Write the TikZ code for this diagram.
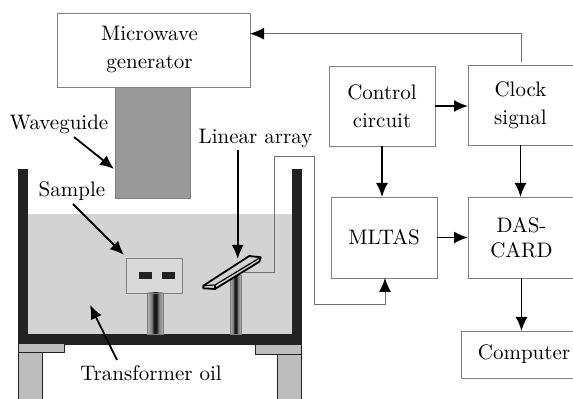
\documentclass[tikz,border=0pt]{standalone}
\usepackage{xcolor}
\usepackage{tikz}
\usetikzlibrary{arrows.meta, positioning, calc}
\definecolor{boxline}{HTML}{808080}
\definecolor{wirecolor}{HTML}{707070}
\definecolor{guidegray}{HTML}{999999}
\definecolor{oilgray}{HTML}{D3D3D3}
\definecolor{samplegray}{HTML}{D9D9D9}
\definecolor{tankblack}{HTML}{222222}
\definecolor{supportgray}{HTML}{BDBDBD}
\pgfdeclarehorizontalshading{stemshade}{100bp}{color(0bp)=(black!30); color(25bp)=(black!30); color(38bp)=(black!50); color(46bp)=(black!90); color(54bp)=(black!90); color(62bp)=(black!50); color(75bp)=(black!30); color(100bp)=(black!30)}

\begin{document}
\begin{tikzpicture}[
  x=0.5pt, y=-0.5pt,
  blockbox/.style={draw=boxline, line width=0.45pt, fill=white, align=center, font=\fontsize{10.5}{14}\selectfont, inner sep=0pt, outer sep=0pt, anchor=north west},
  lbl/.style={align=center, font=\fontsize{10.5}{14}\selectfont, inner sep=0pt},
  arr/.style={-{Latex[length=7pt,width=6pt]}, line width=0.9pt, black},
  wire/.style={draw=wirecolor, line width=0.5pt},
  wirearr/.style={wire, -{Latex[length=7pt,width=6pt,color=black]}},
  tank/.style={fill=tankblack, draw=none},
  support/.style={fill=supportgray, draw=tankblack, line width=0.4pt},
  stem/.style={draw=boxline, line width=0.3pt, shading=stemshade}
]
\path[use as bounding box, clip] (0,0) rectangle (573,399);

% oil and tank
\fill[oilgray] (28,214) rectangle (292,334);
\fill[tank] (18,169) rectangle (28,334);
\fill[tank] (292,169) rectangle (302,334);
\fill[tank] (18,334) rectangle (302,345);
\draw[support] (18,343) rectangle (64,352);
\draw[support] (255,344) rectangle (301,354);
\draw[support] (18,352) rectangle (42,402);
\draw[support] (277,354) rectangle (301,402);

% blocks
\node[blockbox, minimum width=193*0.5pt, minimum height=74*0.5pt] (gen) at (57,13) {\hspace*{-4pt}Microwave\\ \hspace*{-4pt}generator};
\node[draw=boxline, fill=guidegray, line width=0.45pt, inner sep=0pt, outer sep=0pt, anchor=north west, minimum width=75*0.5pt, minimum height=111*0.5pt] (guide) at (115,87) {};
\node[blockbox, minimum width=106*0.5pt, minimum height=80*0.5pt] (ctrl) at (329,66) {Control\\ circuit};
\node[blockbox, minimum width=105*0.5pt, minimum height=80*0.5pt] (clock) at (468,65) {Clock\\ signal};
\node[blockbox, minimum width=106*0.5pt, minimum height=81*0.5pt] (mltas) at (331,197) {\raisebox{-1.5pt}{MLTAS}};
\node[blockbox, minimum width=107*0.5pt, minimum height=81*0.5pt] (das) at (468,197) {DAS-\\[-1.5pt] CARD};
\node[blockbox, minimum width=114*0.5pt, minimum height=47*0.5pt] (comp) at (461,331) {\hspace*{6pt}Computer};

% sample and array
\node[draw=boxline, line width=0.45pt, fill=samplegray, inner sep=0pt, outer sep=0pt, anchor=north west, minimum width=56*0.5pt, minimum height=35*0.5pt] (sample) at (126,258) {};
\fill[tankblack] (139,272) rectangle (152,279);
\fill[tankblack] (162,272) rectangle (175,279);
\path[stem] (147.5,293) rectangle (163,334);
\path[stem] (230,275) rectangle (241,334);
\draw[line width=0.9pt, line join=round, fill=oilgray] (203.3,285.7) -- (249.3,256) -- (260.7,257.3) -- (259.3,261.7) -- (215,289) -- (203.3,288.3) -- cycle;
\draw[line width=0.6pt] (203.3,285.7) -- (215,285) -- (260.7,257.3);
\draw[line width=0.6pt] (215,285) -- (215,289);

% labels
\node[lbl] (lguide) at (59,124) {Waveguide};
\node[lbl] (lsample) at (72,191) {Sample};
\node[lbl] (larray) at (255.5,138) {Linear array};
\node[lbl] (loil) at (151,373) {Transformer oil};

\coordinate (guidestart) at (74,137);
\coordinate (guidetip) at (114,169);
\coordinate (samplestart) at (73,204);
\coordinate (sampletip) at (124,255);
\coordinate (arraystart) at (237.7,150);
\coordinate (arraytip) at (237.7,259);
\coordinate (oilstart) at (117,360);
\coordinate (oiltip) at (90,305);
\draw[arr] (guidestart) -- (guidetip);
\draw[arr] (samplestart) -- (sampletip);
\draw[arr] (arraystart) -- (arraytip);
\draw[arr] (oilstart) -- (oiltip);

% wires
\coordinate (arrayend) at (243,272.7);
\coordinate (clocktop) at (521.7,62);
\draw[wirearr] (arrayend) -- (274.3,272.7) -- (274.3,157) -- (314.3,157) -- (314.3,304.7) -- (385,304.7) -- (385,304.7 |- mltas.south);
\draw[wirearr] (clocktop) -- (521.7,33.7) -- (gen.east |- 521.7,33.7);

\draw[arr] (ctrl.east) -- (clock.west |- ctrl.east);
\draw[arr] (ctrl.south) -- (ctrl.south |- mltas.north);
\draw[arr] (clock.south) -- (clock.south |- das.north);
\draw[arr] (mltas.east) -- (das.west);
\draw[arr] (das.south) -- (das.south |- comp.north);
\end{tikzpicture}
\end{document}
